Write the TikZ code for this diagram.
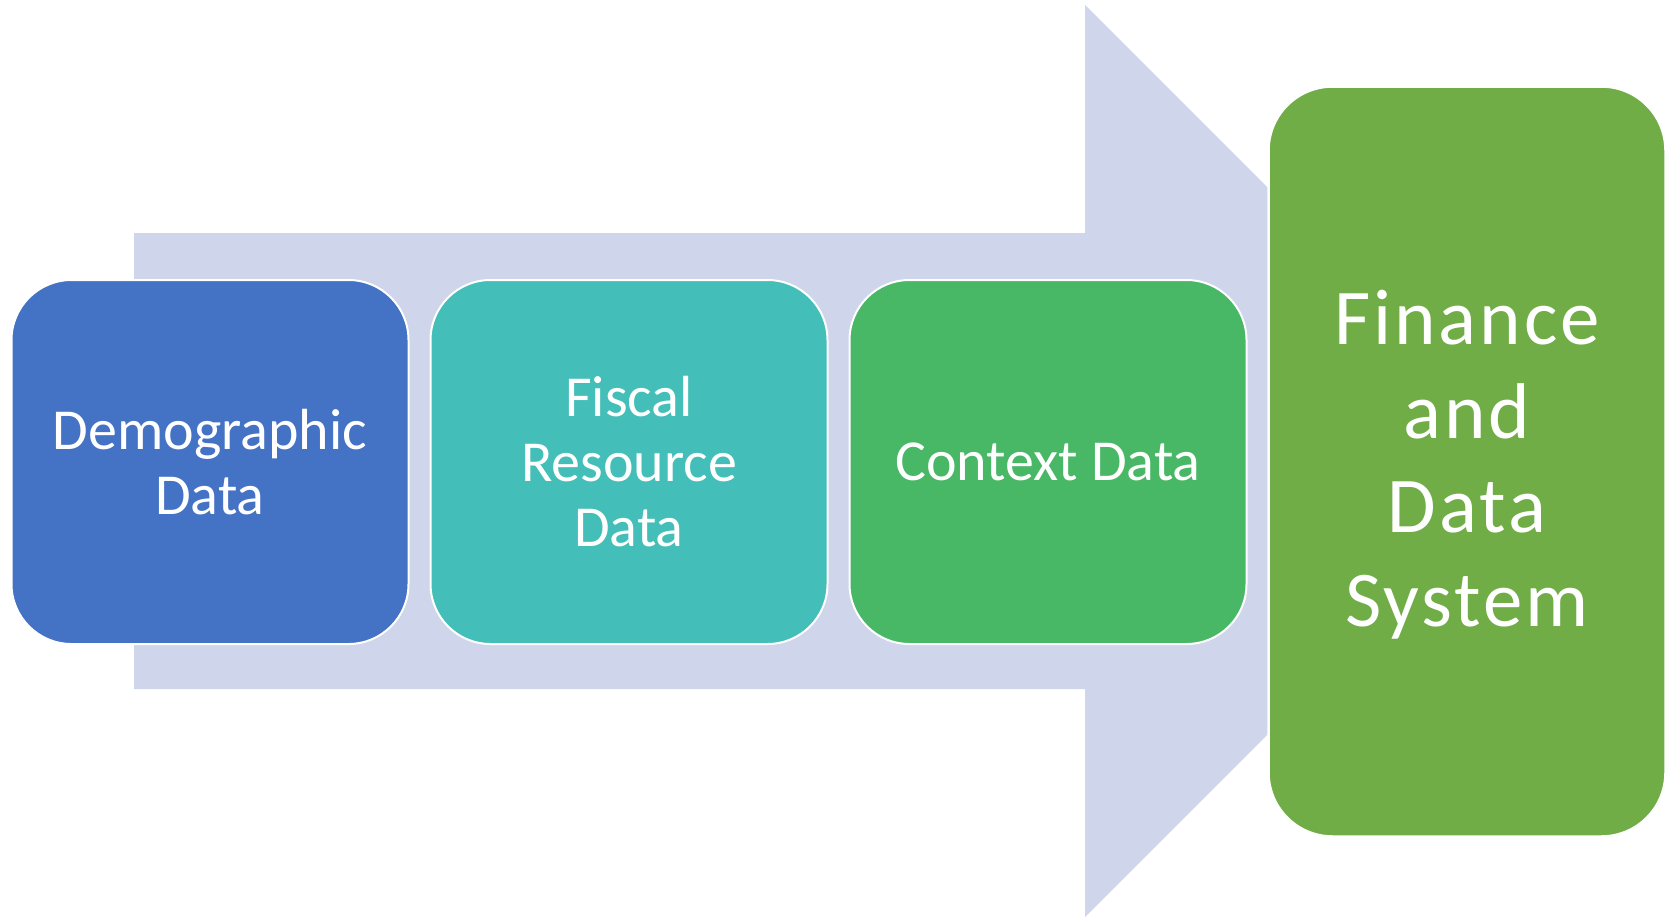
\documentclass[tikz,border=0pt]{standalone}
\usepackage{fontspec}
\setmainfont{Carlito}
\newfontfamily\bigfont[LetterSpace=3.8]{Carlito}
\definecolor{arrowc}{HTML}{CFD5EA}
\definecolor{bluec}{HTML}{4472C4}
\definecolor{tealc}{HTML}{43BEB8}
\definecolor{greenc}{HTML}{48B766}
\definecolor{bigc}{HTML}{70AD47}
\begin{document}
\begin{tikzpicture}[x=1pt,y=-1pt,
  databox/.style={draw=white, line width=2pt, rounded corners=60pt,
    minimum width=397pt, minimum height=364pt, align=center, text=white,
    inner sep=0pt, font=\fontsize{58}{65}\selectfont},
  bigbox/.style={draw=white, line width=2.5pt, rounded corners=64pt,
    minimum width=397pt, minimum height=750pt, align=center, text=white,
    inner sep=0pt, font=\bigfont\fontsize{79}{94}\selectfont}]
\useasboundingbox (0,0) rectangle (1667,918);
\fill[arrowc] (134,233) -- (1085,233) -- (1085,5) -- (1541,461) -- (1085,917) -- (1085,689) -- (134,689) -- cycle;
\node[databox, fill=bluec] (demo) at (210,462) {Demographic\\Data};
\node[databox, fill=tealc] (fiscal) at (629,462) {Fiscal\\Resource\\Data};
\node[databox, fill=greenc] (context) at (1048,462) {Context Data};
\node[bigbox, fill=bigc] (finance) at (1467,461.5) {};
\node[text=white, align=center, inner sep=0pt, font=\bigfont\fontsize{79}{94}\selectfont] (financetext) at (1467,465) {Finance\\and\\Data\\System};
\end{tikzpicture}
\end{document}
